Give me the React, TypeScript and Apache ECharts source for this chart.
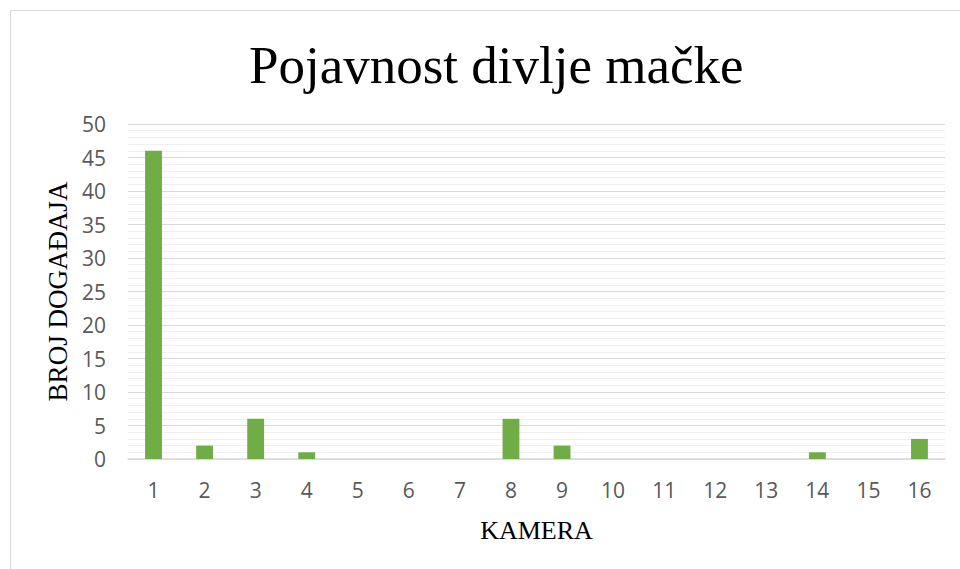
import React, { useEffect, useRef } from "react";
import * as echarts from "echarts";

const categories = ["1", "2", "3", "4", "5", "6", "7", "8", "9", "10", "11", "12", "13", "14", "15", "16"];
const values = [46, 2, 6, 1, 0, 0, 0, 6, 2, 0, 0, 0, 0, 1, 0, 3];
const titleText = "Pojavnost divlje mačke";
const yName = "BROJ DOGAĐAJA";
const xName = "KAMERA";

export default function App() {
  const ref = useRef<HTMLDivElement>(null);
  useEffect(() => {
    document.body.style.margin = "0";
    const chart = echarts.init(ref.current!, null, { renderer: "svg" });
    chart.setOption({
      animation: false,
      backgroundColor: "#ffffff",
      title: {
        text: titleText,
        left: 244,
        top: 33,
        textStyle: { fontFamily: "Liberation Serif", fontSize: 53, fontWeight: "normal", color: "#000000" },
      },
      graphic: [
        {
          type: "rect",
          shape: { x: 10.5, y: 10.5, width: 980, height: 600 },
          style: { fill: "none", stroke: "#d9d9d9", lineWidth: 1 },
          silent: true,
        },
      ],
      grid: { left: 128, right: 15, top: 124, bottom: 110 },
      xAxis: {
        type: "category",
        data: categories,
        name: xName,
        nameLocation: "middle",
        nameGap: 58,
        nameTextStyle: { fontFamily: "Liberation Serif", fontSize: 26, color: "#000000" },
        axisLine: { show: true, lineStyle: { color: "#d9d9d9", width: 1.5 } },
        axisTick: { show: false },
        axisLabel: { fontFamily: "Open Sans", fontSize: 21, color: "#595959", margin: 20 },
      },
      yAxis: {
        type: "value",
        min: 0,
        max: 50,
        interval: 5,
        name: yName,
        nameLocation: "middle",
        nameGap: 54,
        nameTextStyle: { fontFamily: "Liberation Serif", fontSize: 27, color: "#000000" },
        axisLine: { show: false },
        axisTick: { show: false },
        axisLabel: { fontFamily: "Open Sans", fontSize: 21, color: "#595959", margin: 22 },
        splitLine: { show: true, lineStyle: { color: "#d9d9d9", width: 1 } },
        minorTick: { show: false, splitNumber: 5 },
        minorSplitLine: { show: true, lineStyle: { color: "#f0f0f0", width: 1 } },
      },
      series: [
        {
          type: "bar",
          data: values,
          barWidth: "33%",
          itemStyle: { color: "#70ad47" },
        },
      ],
    });
    return () => chart.dispose();
  }, []);
  return <div ref={ref} style={{ width: 960, height: 569 }} />;
}
